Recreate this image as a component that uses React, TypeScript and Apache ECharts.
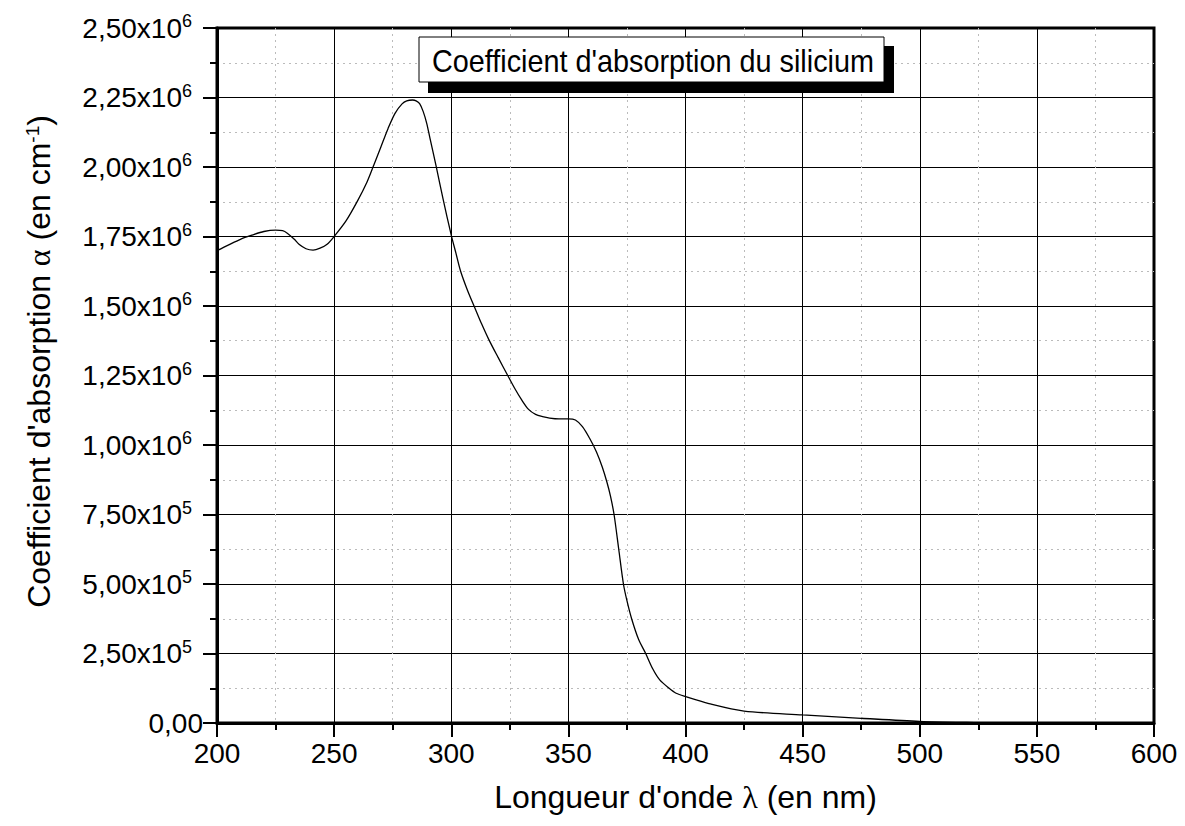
import React, { useEffect, useRef } from "react";
import * as echarts from "echarts";

// Wavelength (nm)
const wavelengths = [
  200, 205, 210, 215, 220, 225, 228, 230, 233, 235, 238, 241, 244, 247, 250,
  255, 260, 264, 267, 270, 273, 276, 279, 281, 283.5, 285, 286.5, 288, 289.5,
  291, 293.5, 296.5, 300, 302, 304, 307, 310, 313, 316, 320, 324, 327, 330,
  333, 336, 339, 342, 346, 350, 353, 356, 359, 362, 364.5, 366.5, 368, 369.5,
  371.5, 373.5, 375, 377, 380, 383, 386, 389, 393, 396, 400, 410, 425, 450,
  475, 500, 520, 540, 560, 600,
];
// Absorption coefficient (cm^-1)
const absorption = [
  1.699e6, 1.72e6, 1.74e6, 1.755e6, 1.768e6, 1.773e6, 1.771e6, 1.762e6, 1.74e6,
  1.722e6, 1.706e6, 1.701e6, 1.708e6, 1.722e6, 1.75e6, 1.805e6, 1.878e6,
  1.945e6, 2.008e6, 2.073e6, 2.138e6, 2.193e6, 2.227e6, 2.238e6, 2.241e6,
  2.238e6, 2.228e6, 2.2e6, 2.158e6, 2.1e6, 2.005e6, 1.885e6, 1.755e6, 1.69e6,
  1.625e6, 1.555e6, 1.495e6, 1.435e6, 1.38e6, 1.315e6, 1.252e6, 1.205e6,
  1.163e6, 1.128e6, 1.11e6, 1.102e6, 1.097e6, 1.094e6, 1.094e6, 1.09e6,
  1.066e6, 1.025e6, 0.975e6, 0.92e6, 0.865e6, 0.815e6, 0.75e6, 0.625e6, 0.5e6,
  0.44e6, 0.375e6, 0.3e6, 0.25e6, 0.195e6, 0.155e6, 0.125e6, 0.107e6, 0.095e6,
  0.07e6, 0.043e6, 0.029e6, 0.017e6, 0.006e6, 0.002e6, 0, 0, 0,
];

const chartTitle = "Coefficient d'absorption du silicium";
const xAxisMin = 200;
const xAxisMax = 600;
const xAxisStep = 50;
const yAxisMin = 0;
const yAxisMax = 2.5e6;
const yAxisStep = 0.25e6;

const FONT = "'Liberation Sans', Arial, sans-serif";

function formatY(v: number): string {
  if (v === 0) return "{n|0,00}";
  const exp = v >= 1e6 ? 6 : 5;
  const m = (v / Math.pow(10, exp)).toFixed(2).replace(".", ",");
  return `{n|${m}x10}{s|${exp}}`;
}

export default function App() {
  const ref = useRef<HTMLDivElement>(null);
  useEffect(() => {
    if (!ref.current) return;
    const chart = echarts.init(ref.current, null, { renderer: "svg" });
    const data = wavelengths.map((w, i) => [w, absorption[i]]);
    chart.setOption({
      animation: false,
      backgroundColor: "#fff",
      grid: {
        left: 217,
        top: 28,
        right: 31,
        bottom: 103,
        show: true,
        borderColor: "#000",
        borderWidth: 3,
        backgroundColor: "transparent",
      },
      xAxis: {
        type: "value",
        min: xAxisMin,
        max: xAxisMax,
        interval: xAxisStep,
        name: "Longueur d'onde {g|λ} (en nm)",
        nameLocation: "middle",
        nameGap: 58,
        nameTextStyle: {
          fontFamily: FONT,
          fontSize: 32,
          color: "#000",
          rich: {
            g: { fontFamily: "'Liberation Serif', serif", fontSize: 32, color: "#000" },
          },
        },
        axisLine: { onZero: false, lineStyle: { color: "#000", width: 3 } },
        axisTick: { length: 14, lineStyle: { color: "#000", width: 2 } },
        minorTick: { show: true, splitNumber: 2, length: 7, lineStyle: { color: "#000", width: 2 } },
        axisLabel: {
          margin: 16,
          fontFamily: FONT,
          fontSize: 28,
          color: "#000",
          showMinLabel: true,
          showMaxLabel: true,
        },
        splitLine: { show: true, lineStyle: { color: "#000", width: 1 } },
        minorSplitLine: { show: true, lineStyle: { color: "#bbb", width: 1, type: [2, 4] } },
      },
      yAxis: {
        type: "value",
        min: yAxisMin,
        max: yAxisMax,
        interval: yAxisStep,
        name: "Coefficient d'absorption {g|α} (en cm{s|-1})",
        nameLocation: "middle",
        nameGap: 162,
        nameTextStyle: {
          fontFamily: FONT,
          fontSize: 32,
          color: "#000",
          padding: [0, 0, 0, 28],
          rich: {
            g: { fontFamily: "'Liberation Serif', serif", fontSize: 32, color: "#000" },
            s: { fontFamily: FONT, fontSize: 19, color: "#000", verticalAlign: "top" },
          },
        },
        axisLine: { onZero: false, lineStyle: { color: "#000", width: 3 } },
        axisTick: { length: 14, lineStyle: { color: "#000", width: 2 } },
        minorTick: { show: true, splitNumber: 2, length: 7, lineStyle: { color: "#000", width: 2 } },
        axisLabel: {
          margin: 14,
          showMinLabel: true,
          showMaxLabel: true,
          formatter: formatY,
          rich: {
            n: { fontFamily: FONT, fontSize: 28, color: "#000", lineHeight: 32 },
            s: {
              fontFamily: FONT,
              fontSize: 18,
              color: "#000",
              verticalAlign: "top",
              padding: [0, 11, 0, 0],
            },
          },
        },
        splitLine: { show: true, lineStyle: { color: "#000", width: 1 } },
        minorSplitLine: { show: true, lineStyle: { color: "#bbb", width: 1, type: [2, 4] } },
      },
      series: [
        {
          type: "line",
          data,
          showSymbol: false,
          smooth: 0.3,
          lineStyle: { color: "#000", width: 1.3 },
          z: 5,
        },
      ],
      graphic: [
        {
          type: "rect",
          shape: { x: 428, y: 46, width: 466, height: 47 },
          style: { fill: "#000" },
          z: 100,
        },
        {
          type: "rect",
          shape: { x: 419, y: 37, width: 465, height: 45 },
          style: { fill: "#fff", stroke: "#000", lineWidth: 1 },
          z: 101,
        },
        {
          type: "text",
          x: 432,
          y: 60,
          scaleX: 0.9,
          style: {
            text: chartTitle,
            fontFamily: FONT,
            fontSize: 32,
            fill: "#000",
            verticalAlign: "middle",
            align: "left",
          },
          z: 102,
        },
      ],
    });
    return () => chart.dispose();
  }, []);
  return (
    <div
      ref={ref}
      style={{ position: "absolute", left: 0, top: 0, width: 1185, height: 826 }}
    />
  );
}
